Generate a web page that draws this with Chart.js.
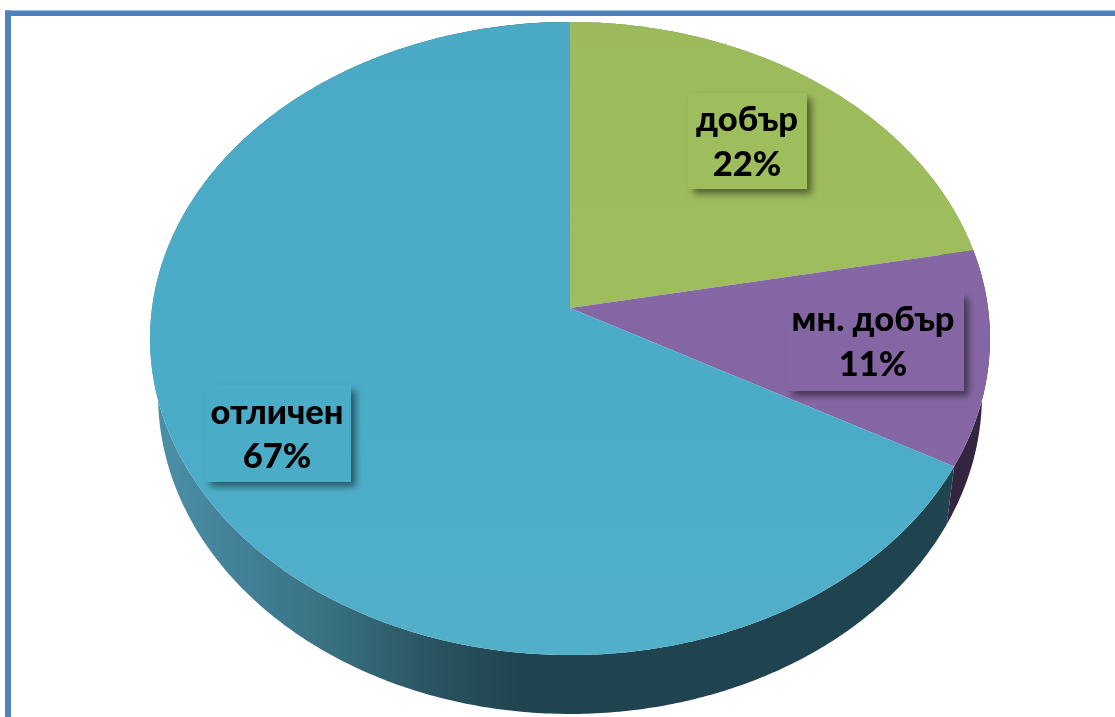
<!DOCTYPE html>
<html><head><meta charset="utf-8">
<style>html,body{margin:0;padding:0;background:#fff;overflow:hidden}canvas{display:block}</style>
<script src="https://cdn.jsdelivr.net/npm/chart.js@4/dist/chart.umd.js"></script>
</head><body><canvas id="c" width="1115" height="717"></canvas>
<script>
const categories = ['добър', 'мн. добър', 'отличен'];
const percentages = [22, 11, 67];
const topColors = ['#9ebd5c', '#8566a4', '#4bacc8'];
const wallColors = [
  [[0, '#6f8a3d'], [1, '#6f8a3d']],
  [[0, '#3d2a52'], [1, '#33243f']],
  [[0, '#4b8fa7'], [0.11, '#417f96'], [0.21, '#38707f'], [0.34, '#28525f'], [0.44, '#1f4450'], [1, '#1f4450']]
];

// perspective of the disc: top face and bottom rim
const K = -0.0964;
const TOP = {x0: 570, y0: 308, bx: 418, by: 313.6};
const BOT = {x0: 570, y0: 364.8, bx: 410, by: 315.5};
const WALL_X = [160, 980];
function project(p, a, r) {
  const u = Math.cos(a) * r, v = Math.sin(a) * r, d = 1 + K * v;
  return [p.x0 + p.bx * u / d, p.y0 + p.by * v / d];
}
function steps(a, b) { return Math.max(2, Math.ceil((b - a) / 0.01)); }

class PerspectiveArc extends Chart.ArcElement {
  static id = 'perspectiveArc';
  draw(ctx) {
    const {startAngle: a, endAngle: b} = this;
    const n = steps(a, b);
    ctx.save();
    ctx.beginPath();
    ctx.moveTo(TOP.x0, TOP.y0);
    for (let i = 0; i <= n; i++) {
      const p = project(TOP, a + (b - a) * i / n, 1);
      ctx.lineTo(p[0], p[1]);
    }
    ctx.closePath();
    ctx.fillStyle = this.options.backgroundColor;
    ctx.fill();
    const shade = ctx.createLinearGradient(0, 22, 0, 655);
    shade.addColorStop(0, 'rgba(0,0,0,0.015)');
    shade.addColorStop(0.6, 'rgba(255,255,255,0)');
    shade.addColorStop(1, 'rgba(255,255,255,0.04)');
    ctx.fillStyle = shade;
    ctx.fill();
    ctx.restore();
  }
}
class PerspectivePie extends Chart.PieController {
  static id = 'perspectivePie';
  static defaults = Object.assign({}, Chart.PieController.defaults, {dataElementType: 'perspectiveArc'});
  static overrides = Chart.PieController.overrides;
}
Chart.register(PerspectiveArc, PerspectivePie);

const wallPlugin = {
  id: 'wall',
  beforeDatasetsDraw(chart) {
    const ctx = chart.ctx;
    chart.getDatasetMeta(0).data.forEach((arc, idx) => {
      const a = arc.startAngle, b = arc.endAngle, n = steps(a, b);
      const g = ctx.createLinearGradient(WALL_X[0], 0, WALL_X[1], 0);
      wallColors[idx].forEach(s => g.addColorStop(s[0], s[1]));
      ctx.beginPath();
      for (let i = 0; i <= n; i++) {
        const p = project(TOP, a + (b - a) * i / n, 1);
        i ? ctx.lineTo(p[0], p[1]) : ctx.moveTo(p[0], p[1]);
      }
      for (let i = n; i >= 0; i--) {
        const p = project(BOT, a + (b - a) * i / n, 1);
        ctx.lineTo(p[0], p[1]);
      }
      ctx.closePath();
      ctx.fillStyle = g;
      ctx.fill();
    });
  }
};

const labelBoxes = [
  {l: 688, t: 93, r: 807, b: 189, cx: 747, y1: 120, y2: 165},
  {l: 787, t: 293, r: 964, b: 391, cx: 873, y1: 320, y2: 365},
  {l: 205, t: 385, r: 351, b: 482, cx: 277, y1: 413, y2: 457}
];
const labelPlugin = {
  id: 'labels',
  afterDatasetsDraw(chart) {
    const ctx = chart.ctx;
    labelBoxes.forEach((b, i) => {
      ctx.save();
      ctx.shadowColor = 'rgba(0,0,0,0.5)';
      ctx.shadowBlur = 7;
      ctx.shadowOffsetX = 4.5;
      ctx.shadowOffsetY = 4.5;
      ctx.fillStyle = topColors[i];
      ctx.fillRect(b.l, b.t, b.r - b.l, b.b - b.t);
      ctx.restore();
      ctx.fillStyle = '#000';
      ctx.font = '900 34.5px Lato, "Open Sans"';
      ctx.textAlign = 'center';
      ctx.textBaseline = 'middle';
      ctx.fillText(categories[i], b.cx, b.y1);
      ctx.fillText(percentages[i] + '%', b.cx, b.y2);
    });
  }
};
const framePlugin = {
  id: 'frame',
  beforeDraw(chart) {
    const ctx = chart.ctx;
    ctx.fillStyle = '#fff';
    ctx.fillRect(0, 0, 1115, 717);
    ctx.fillStyle = '#4f81bd';
    ctx.fillRect(5, 10.5, 1110, 5.5);
    ctx.fillRect(5, 10.5, 6, 706.5);
  }
};

new Chart(document.getElementById('c'), {
  type: 'perspectivePie',
  data: {labels: categories, datasets: [{data: percentages, backgroundColor: topColors, borderWidth: 0}]},
  options: {
    responsive: false,
    animation: false,
    plugins: {legend: {display: false}, tooltip: {enabled: false}}
  },
  plugins: [framePlugin, wallPlugin, labelPlugin]
});
</script></body></html>
